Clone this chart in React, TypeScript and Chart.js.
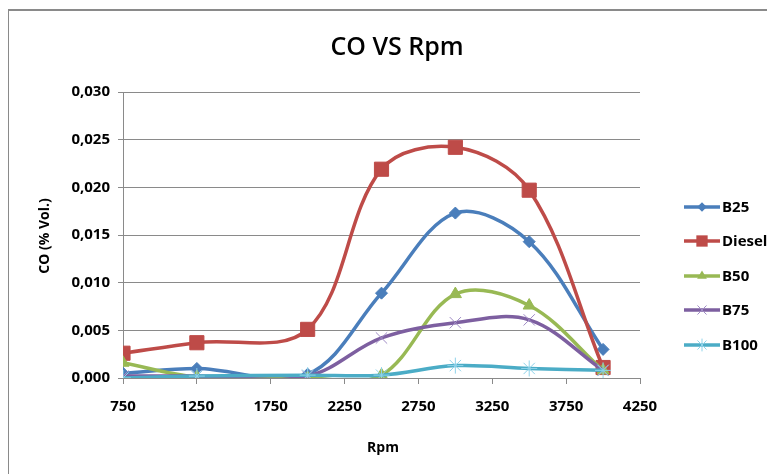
import React, { useEffect, useRef } from "react";
import { Chart, registerables } from "chart.js";

Chart.register(...registerables);

const rpm = [750, 1250, 2000, 2500, 3000, 3500, 4000];
const b25 = [0.0005, 0.001, 0.0004, 0.0089, 0.0173, 0.0143, 0.003];
const diesel = [0.0026, 0.0037, 0.0051, 0.0219, 0.0242, 0.0197, 0.0011];
const b50 = [0.0016, 0.0001, 0.0, 0.0003, 0.0088, 0.0076, 0.0008];
const b75 = [0.0002, 0.0002, 0.0002, 0.0042, 0.0058, 0.0061, 0.0008];
const b100 = [0.0, 0.0002, 0.0003, 0.0003, 0.0013, 0.001, 0.0008];

const xTicksMin = 750;
const xTicksMax = 4250;
const xStep = 500;
const yMin = 0;
const yMax = 0.03;
const yStep = 0.005;

const titleText = "CO VS Rpm";
const xTitle = "Rpm";
const yTitle = "CO (% Vol.)";

const FONT = "'Open Sans', sans-serif";

type S = { label: string; data: number[]; color: string; marker: string; markerColor: string; radius: number; order: number };
const series: S[] = [
  { label: "B25", data: b25, color: "#4A7EBB", marker: "rectRot", markerColor: "#4A7EBB", radius: 6, order: 5 },
  { label: "Diesel", data: diesel, color: "#BE4B48", marker: "rect", markerColor: "#BE4B48", radius: 10, order: 4 },
  { label: "B50", data: b50, color: "#98B954", marker: "triangle", markerColor: "#98B954", radius: 7, order: 3 },
  { label: "B75", data: b75, color: "#7D5FA0", marker: "crossRot", markerColor: "#A08CC6", radius: 8, order: 2 },
  { label: "B100", data: b100, color: "#4BACC6", marker: "star", markerColor: "#8FD3EA", radius: 8, order: 1 },
];

function drawMarker(ctx: CanvasRenderingContext2D, kind: string, x: number, y: number, r: number, color: string) {
  ctx.save();
  ctx.fillStyle = color;
  ctx.strokeStyle = color;
  ctx.lineWidth = 1;
  ctx.beginPath();
  if (kind === "rectRot") {
    ctx.moveTo(x, y - r);
    ctx.lineTo(x + r, y);
    ctx.lineTo(x, y + r);
    ctx.lineTo(x - r, y);
    ctx.closePath();
    ctx.fill();
  } else if (kind === "rect") {
    const s = r * Math.SQRT1_2;
    ctx.rect(x - s, y - s, 2 * s, 2 * s);
    ctx.fill();
  } else if (kind === "triangle") {
    ctx.moveTo(x, y - r);
    ctx.lineTo(x + r * 0.87, y + r * 0.5);
    ctx.lineTo(x - r * 0.87, y + r * 0.5);
    ctx.closePath();
    ctx.fill();
  } else if (kind === "crossRot") {
    const s = r * Math.SQRT1_2;
    ctx.moveTo(x - s, y - s);
    ctx.lineTo(x + s, y + s);
    ctx.moveTo(x + s, y - s);
    ctx.lineTo(x - s, y + s);
    ctx.stroke();
  } else if (kind === "star") {
    const s = r * Math.SQRT1_2;
    ctx.moveTo(x - s, y - s);
    ctx.lineTo(x + s, y + s);
    ctx.moveTo(x + s, y - s);
    ctx.lineTo(x - s, y + s);
    ctx.moveTo(x, y - r);
    ctx.lineTo(x, y + r);
    ctx.stroke();
  }
  ctx.restore();
}

const decorPlugin = {
  id: "decor",
  beforeDraw(chart: any) {
    const ctx = chart.ctx as CanvasRenderingContext2D;
    ctx.save();
    ctx.fillStyle = "#ffffff";
    ctx.fillRect(0, 0, chart.width, chart.height);
    ctx.strokeStyle = "#8a8a8a";
    ctx.lineWidth = 2;
    ctx.beginPath();
    ctx.moveTo(0, 2);
    ctx.lineTo(chart.width, 2);
    ctx.stroke();
    ctx.lineWidth = 1;
    ctx.beginPath();
    ctx.moveTo(0.5, 1);
    ctx.lineTo(0.5, chart.height);
    ctx.stroke();
    ctx.restore();
  },
  afterDraw(chart: any) {
    const ctx = chart.ctx as CanvasRenderingContext2D;
    ctx.save();
    ctx.fillStyle = "#000000";
    ctx.textAlign = "center";
    ctx.textBaseline = "middle";
    ctx.font = `600 25px ${FONT}`;
    ctx.fillText(titleText, 389, 40);
    ctx.font = `bold 14px ${FONT}`;
    ctx.fillText(xTitle, 375, 440);
    ctx.save();
    ctx.translate(37, 228);
    ctx.rotate(-Math.PI / 2);
    ctx.fillText(yTitle, 0, 0);
    ctx.restore();

    const ys = [199, 233, 268, 302, 337];
    series.forEach((s, i) => {
      const y = ys[i];
      ctx.strokeStyle = s.color;
      ctx.lineWidth = 3.5;
      ctx.beginPath();
      ctx.moveTo(676, y);
      ctx.lineTo(712, y);
      ctx.stroke();
      drawMarker(ctx, s.marker, 694, y, s.radius * 0.8, s.markerColor);
      ctx.fillStyle = "#000000";
      ctx.textAlign = "left";
      ctx.font = `bold 15px ${FONT}`;
      ctx.fillText(s.label, 714, y + 1);
    });
    ctx.restore();
  },
};

export default function App() {
  const ref = useRef<HTMLCanvasElement>(null);
  useEffect(() => {
    if (!ref.current) return;
    Chart.defaults.font.family = FONT;
    const chart = new Chart(ref.current, {
      type: "line",
      data: {
        datasets: series.map((s) => ({
          label: s.label,
          data: rpm.map((x, i) => ({ x, y: s.data[i] })),
          borderColor: s.color,
          backgroundColor: s.markerColor,
          pointBorderColor: s.markerColor,
          pointBackgroundColor: s.markerColor,
          pointStyle: s.marker as any,
          pointRadius: s.radius,
          pointBorderWidth: 1,
          borderWidth: 3.5,
          tension: 0.35,
          order: s.order,
          fill: false,
        })),
      },
      plugins: [decorPlugin],
      options: {
        animation: false,
        responsive: false,
        layout: { padding: { top: 84, right: 135, left: 0, bottom: 0 } },
        plugins: { legend: { display: false }, title: { display: false }, tooltip: { enabled: false } },
        elements: { line: { capBezierPoints: false } },
        scales: {
          x: {
            type: "linear",
            min: xTicksMin,
            max: xTicksMax,
            afterFit: (scale: any) => { scale.height = 96; },
            ticks: {
              stepSize: xStep,
              padding: 14,
              color: "#000",
              font: { size: 15, weight: "bold" },
              maxRotation: 0,
              callback: (v: any) => String(v),
            },
            grid: { drawOnChartArea: false, tickLength: 6, color: "#8a8a8a" },
            border: { color: "#8a8a8a" },
          },
          y: {
            min: yMin,
            max: yMax,
            afterFit: (scale: any) => { scale.width = 115; },
            ticks: {
              stepSize: yStep,
              padding: 8,
              color: "#000",
              font: { size: 15, weight: "bold" },
              callback: (v: any) => Number(v).toFixed(3).replace(".", ","),
            },
            grid: { color: "#8a8a8a", tickLength: 5 },
            border: { color: "#8a8a8a" },
          },
        },
      },
    });
    return () => chart.destroy();
  }, []);
  return <canvas ref={ref} width={767} height={466} style={{ display: "block" }} />;
}
